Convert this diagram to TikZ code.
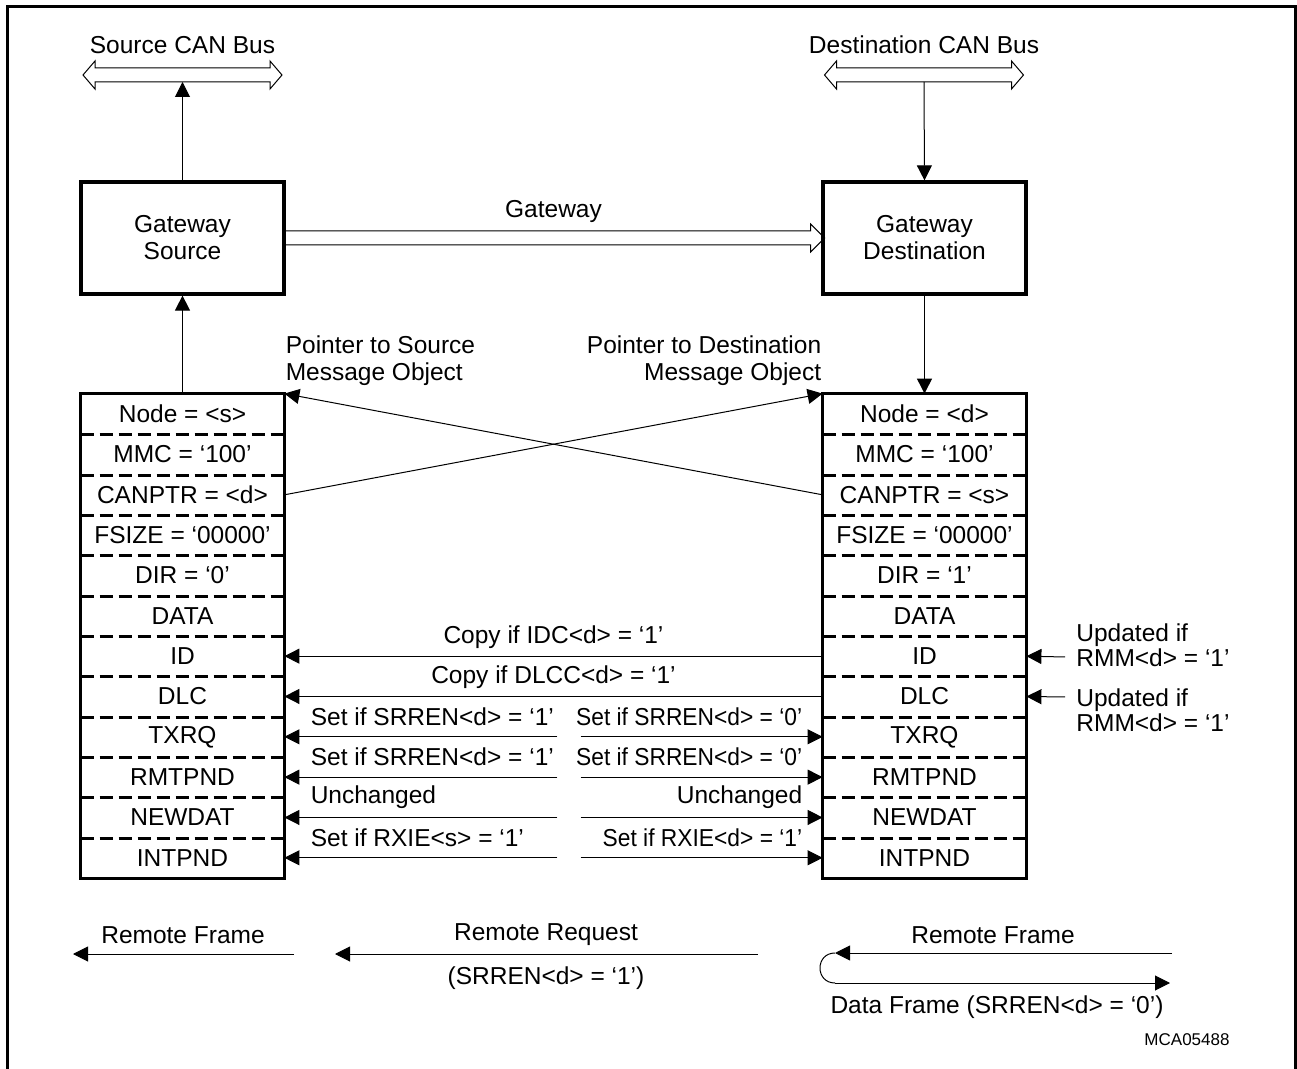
\documentclass[tikz,border=0pt]{standalone}
\usepackage{fontspec}
\usepackage{graphicx}
\setmainfont{Liberation Sans}
\usetikzlibrary{arrows.meta,positioning}

\tikzset{
  gwbox/.style={draw, line width=1.6pt, minimum width=101.5pt, minimum height=56pt, inner sep=0pt, align=center},
  objrow/.style={minimum width=101.5pt, minimum height=20.17pt, inner sep=0pt},
  objbox/.style={line width=1.6pt},
  rowsep/.style={line width=1.5pt, dash pattern=on 6.5pt off 3pt},
  link/.style={line width=0.5pt, -{Triangle[length=7.5pt,width=7.5pt]}},
  lbl/.style={inner sep=0pt},
  canbus/.pic={\draw[line width=0.5pt] (-99.5,0) -- (-87.5,-14) -- (-87.5,-7) -- (87.5,-7) -- (87.5,-14) -- (99.5,0) -- (87.5,14) -- (87.5,7) -- (-87.5,7) -- (-87.5,14) -- cycle;}
}
\newcommand{\narrowtxt}[1]{\scalebox{0.93}[1]{#1}}

\begin{document}
\begin{tikzpicture}[x=0.5pt, y=-0.5pt, font=\fontsize{12.25}{13.5}\selectfont]
\useasboundingbox (0,0) rectangle (1297,1069);
\clip (0,0) rectangle (1297,1069);
\draw[line width=1.5pt] (7,1090) -- (7,7) -- (1295,7) -- (1295,1090);

% CAN buses
\pic at (182.5,75) {canbus};
\pic at (924,75) {canbus};
\coordinate (sbus) at (182.5,82);
\coordinate (dbus) at (924,82);
\node[lbl] (sbustxt) at (182.5,45) {Source CAN Bus};
\node[lbl] (dbustxt) at (924,45) {Destination CAN Bus};

% gateway boxes
\node[gwbox] (gws) at (182.5,238) {Gateway\\Source};
\node[gwbox] (gwd) at (924.5,238) {Gateway\\Destination};
\draw[line width=0.5pt] (gws.east) ++(0,-7) -- ++(525,0) -- ++(0,-7) -- ++(14,14) -- ++(-14,14) -- ++(0,-7) -- ++(-525,0);
\node[lbl] (gwtxt) at (553.5,211) {Gateway};

% message objects
\foreach \txt [count=\i] in {Node = <s>, MMC = ‘100’, CANPTR = <d>, FSIZE = ‘00000’, DIR = ‘0’, DATA, ID, DLC, TXRQ, RMTPND, NEWDAT, INTPND}
  \node[objrow] (s\i) at (182.5,{394+40.33*(\i-0.5)}) {\txt};
\foreach \txt [count=\i] in {Node = <d>, MMC = ‘100’, CANPTR = <s>, FSIZE = ‘00000’, DIR = ‘1’, DATA, ID, DLC, TXRQ, RMTPND, NEWDAT, INTPND}
  \node[objrow] (d\i) at (924.5,{394+40.33*(\i-0.5)}) {\txt};
\foreach \i in {1,...,11} {
  \draw[rowsep] (s\i.south west) -- (s\i.south east);
  \draw[rowsep] (d\i.south west) -- (d\i.south east);
}
\draw[objbox] (s1.north west) rectangle (s12.south east);
\draw[objbox] (d1.north west) rectangle (d12.south east);

% vertical links
\draw[link] (gws.north) -- (sbus);
\draw[link] (dbus) -- (gwd.north);
\draw[link] (s1.north) -- (gws.south);
\draw[link] (gwd.south) -- (d1.north);

% pointers
\node[lbl, align=left, above right=4pt and 0.5pt of s1.north east] (psrc) {Pointer to Source\\Message Object};
\node[lbl, align=right, above left=4pt and 0.5pt of d1.north west] (pdst) {Pointer to Destination\\Message Object};
\draw[link] (d3.west) -- (s1.north east);
\draw[link] (s3.east) -- (d1.north west);

% copy arrows
\draw[link] (d7.west) -- (s7.east);
\draw[link] (d8.west) -- (s8.east);
\node[lbl] (cpid) at (553.5,637) {Copy if IDC<d> = ‘1’};
\node[lbl] (cpdlc) at (553.5,677) {Copy if DLCC<d> = ‘1’};

% set / unchanged arrows
\foreach \i/\lt/\rt in {9/{Set if SRREN<d> = ‘1’}/{\narrowtxt{Set if SRREN<d> = ‘0’}},
                        10/{Set if SRREN<d> = ‘1’}/{\narrowtxt{Set if SRREN<d> = ‘0’}},
                        11/{Unchanged}/{Unchanged},
                        12/{Set if RXIE<s> = ‘1’}/{\narrowtxt{Set if RXIE<d> = ‘1’}}} {
  \path (s\i.east) ++(273,0) coordinate (ml\i);
  \path (d\i.west) ++(-242,0) coordinate (mr\i);
  \draw[link] (ml\i) -- (s\i.east);
  \draw[link] (mr\i) -- (d\i.west);
  \path (ml\i) ++(-247,-20) node[lbl, anchor=west] (lt\i) {\lt};
  \path (mr\i) ++(222,-20) node[lbl, anchor=east] (rt\i) {\rt};
}

% updated if
\coordinate (u7) at (1065,657);
\coordinate (u8) at (1065,697);
\draw[link] (u7) -- (d7.east);
\draw[link] (u8) -- (d8.east);
\node[lbl, align=left, anchor=west] (upd7) at (1076,645.5) {Updated if\\[-1pt]RMM<d> = ‘1’};
\node[lbl, align=left, anchor=west] (upd8) at (1076,710) {Updated if\\[-1pt]RMM<d> = ‘1’};

% legend
\coordinate (rfa) at (294,954);
\coordinate (rfb) at (73,954);
\coordinate (rqa) at (758,954);
\coordinate (rqb) at (335,954);
\coordinate (loa) at (1172,953);
\coordinate (lob) at (835,953);
\coordinate (loc) at (835,983);
\coordinate (lod) at (1170,983);
\draw[link] (rfa) -- (rfb);
\draw[link] (rqa) -- (rqb);
\draw[link] (loa) -- (lob);
\draw[line width=0.5pt] (lob) .. controls (815,953) and (815,983) .. (loc);
\draw[link] (loc) -- (lod);
\node[lbl] (rftxt) at (183,935) {Remote Frame};
\node[lbl] (rqtxt) at (546,935) {Remote Request};
\node[lbl] (rqcond) at (546,978) {(SRREN<d> = ‘1’)};
\node[lbl] (lotxt) at (993,935) {Remote Frame};
\node[lbl] (dftxt) at (997,1007) {Data Frame (SRREN<d> = ‘0’)};
\node[lbl, font=\fontsize{8.5}{10}\selectfont] (figid) at (1187,1040) {MCA05488};
\end{tikzpicture}
\end{document}
